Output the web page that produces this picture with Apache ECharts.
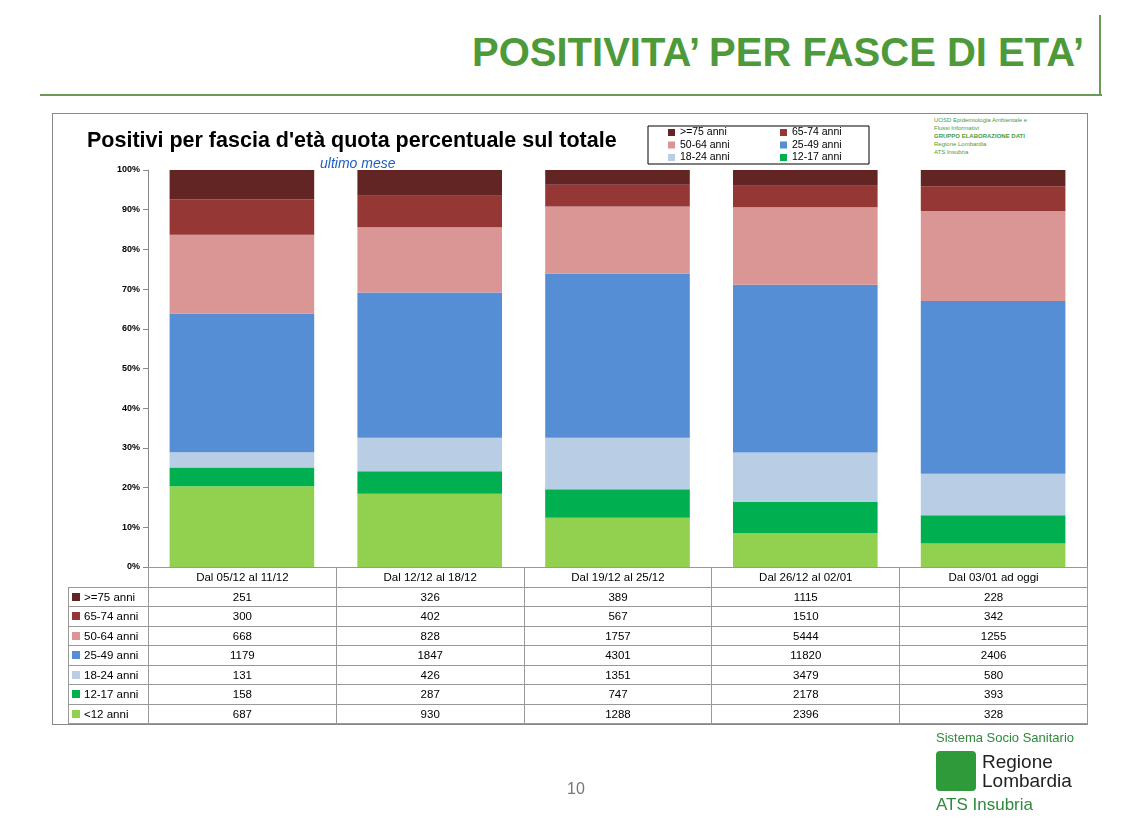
<!DOCTYPE html>
<html>
<head>
<meta charset="utf-8">
<title>Positività per fasce di età</title>
<script src="https://cdn.jsdelivr.net/npm/echarts@6/dist/echarts.min.js"></script>
<style>
body{margin:0;width:1126px;height:825px;position:relative;background:#fff;font-family:"Liberation Sans",Arial,sans-serif;overflow:hidden}
#head{position:absolute;right:42px;top:30px;font-size:40px;font-weight:bold;color:#4e9a3a}
#hline{position:absolute;left:40px;top:94px;width:1062px;border-top:2px solid #6a9a58}
#vline{position:absolute;left:1099px;top:15px;height:80px;border-left:2px solid #6a9a58}
#box{position:absolute;left:52px;top:113px;width:1034px;height:610px;border:1px solid #888}
#container{position:absolute;left:0;top:0;width:1126px;height:825px}
table{position:absolute;left:68px;top:567px;border-collapse:collapse;font-size:11.5px;table-layout:fixed;width:1019px}
td{border:1px solid #999;height:18.5px;padding:0;text-align:center;overflow:hidden;white-space:nowrap}
td.lab{text-align:left;padding-left:3px}
.sw{display:inline-block;width:8px;height:8px;margin-right:4px}
#foot{position:absolute;left:936px;top:730px;color:#2e8a3a}
#pg{position:absolute;left:567px;top:780px;color:#777;font-size:16px}
#ats{position:absolute;left:934px;top:116px;font-size:6px;color:#4e9a3a;line-height:8px}
</style>
</head>
<body>
<div id="head">POSITIVITA’ PER FASCE DI ETA’</div>
<div id="hline"></div><div id="vline"></div>
<div id="box"></div>
<div id="ats">UOSD Epidemiologia Ambientale e<br>Flussi Informativi<br><b>GRUPPO ELABORAZIONE DATI</b><br>Regione Lombardia<br>ATS Insubria</div>
<div id="container"></div>
<table id="tab"></table>
<div id="pg">10</div>
<div id="foot">
 <div style="font-size:13px">Sistema Socio Sanitario</div>
 <div style="display:flex;align-items:center;margin-top:6px">
  <div style="width:40px;height:40px;background:#2e9a3a;border-radius:4px;margin-right:6px"></div>
  <div style="color:#222;font-size:19px;line-height:19px">Regione<br>Lombardia</div>
 </div>
 <div style="font-size:17px;margin-top:4px">ATS Insubria</div>
</div>
<script>
var categories = ['Dal 05/12 al 11/12','Dal 12/12 al 18/12','Dal 19/12 al 25/12','Dal 26/12 al 02/01','Dal 03/01 ad oggi'];
var groups = ['>=75 anni','65-74 anni','50-64 anni','25-49 anni','18-24 anni','12-17 anni','<12 anni'];
var colors = ['#632523','#953735','#d99694','#558ed5','#b9cde5','#00b050','#92d050'];
var over75 = [251,326,389,1115,228];
var a65_74 = [300,402,567,1510,342];
var a50_64 = [668,828,1757,5444,1255];
var a25_49 = [1179,1847,4301,11820,2406];
var a18_24 = [131,426,1351,3479,580];
var a12_17 = [158,287,747,2178,393];
var under12 = [687,930,1288,2396,328];
var values = [over75,a65_74,a50_64,a25_49,a18_24,a12_17,under12];

var totals = categories.map(function(c,i){
  var s = 0; values.forEach(function(v){ s += v[i]; }); return s;
});

// tabella sotto il grafico
var html = '<colgroup><col style="width:80px">' + categories.map(function(){return '<col style="width:187.8px">';}).join('') + '</colgroup>';
html += '<tr><td style="border:none;border-right:1px solid #999"></td>' + categories.map(function(c){return '<td>'+c+'</td>';}).join('') + '</tr>';
groups.forEach(function(g,k){
  html += '<tr><td class="lab"><span class="sw" style="background:'+colors[k]+'"></span>'+g+'</td>' +
    values[k].map(function(v){return '<td>'+v+'</td>';}).join('') + '</tr>';
});
document.getElementById('tab').innerHTML = html;

var series = [];
for (var k = groups.length - 1; k >= 0; k--) {
  series.push({
    name: groups[k], type: 'bar', stack: 'tot', barCategoryGap: '23%',
    itemStyle: {color: colors[k]},
    data: values[k].map(function(v,i){ return v / totals[i] * 100; })
  });
}

// legenda: 2 colonne x 3 righe, un elemento per legenda
var legends = groups.slice(0, 6).map(function(g, k){
  return {
    data: [g], left: 668 + (k % 2) * 112, top: 127 + Math.floor(k / 2) * 12.5,
    itemWidth: 7, itemHeight: 7, icon: 'rect', padding: 0,
    textStyle: {fontSize: 10.5, color: '#000'}
  };
});

var chart = echarts.init(document.getElementById('container'));
chart.setOption({
  animation: false,
  title: [{
    text: "Positivi per fascia d'età quota percentuale sul totale",
    left: 82, top: 125,
    textStyle: {fontSize: 21.5, fontWeight: 'bold', color: '#000'}
  }, {
    text: 'ultimo mese', left: 315, top: 152,
    textStyle: {fontSize: 14, fontStyle: 'italic', fontWeight: 'normal', color: '#1f5fbf'}
  }],
  graphic: [{type: 'rect', shape: {x: 648, y: 126, width: 221, height: 38}, style: {fill: 'none', stroke: '#000', lineWidth: 1}}],
  legend: legends,
  grid: {left: 148, right: 39, top: 170, bottom: 258},
  xAxis: {type: 'category', data: categories, axisLabel: {show: false}, axisTick: {show: false}, axisLine: {lineStyle: {color: '#888'}}},
  yAxis: {type: 'value', min: 0, max: 100, interval: 10,
    axisLabel: {formatter: '{value}%', fontSize: 9, fontWeight: 'bold', color: '#000'},
    axisLine: {show: true, lineStyle: {color: '#888'}}, axisTick: {show: true},
    splitLine: {show: false}},
  series: series
});
</script>
</body>
</html>
